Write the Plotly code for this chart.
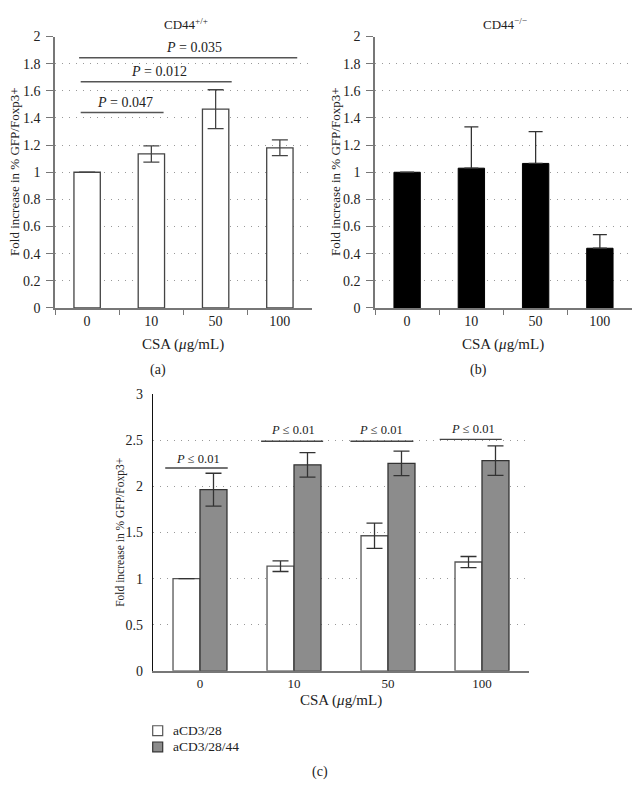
import plotly.graph_objects as go

# ---------------- data ----------------
categories = ["0", "10", "50", "100"]

# panel (a) CD44+/+
wt_vals = [1.0, 1.135, 1.465, 1.18]
wt_err = [None, 0.06, 0.143, 0.058]

# panel (b) CD44-/-
ko_vals = [1.0, 1.03, 1.065, 0.44]
ko_err_up = [None, 0.305, 0.235, 0.10]
ko_err_down = [0, 0, 0, 0]

# panel (c)
c_white_vals = [1.0, 1.135, 1.465, 1.18]
c_white_err = [None, 0.058, 0.138, 0.06]
c_gray_vals = [1.965, 2.234, 2.25, 2.28]
c_gray_err = [0.178, 0.133, 0.133, 0.16]

series_names = ["aCD3/28", "aCD3/28/44"]
series_fill = ["white", "#8c8c8c"]
series_line = ["#555", "#333"]

# significance brackets (x0, x1 in category units, y in data units, label position, label)
sig_a = [(-0.1, 1.19, 1.44, 0.59, 1.515, "<i>P</i> = 0.047"),
         (-0.1, 2.25, 1.668, 1.125, 1.745, "<i>P</i> = 0.012"),
         (-0.125, 3.27, 1.844, 1.67, 1.92, "<i>P</i> = 0.035")]
sig_c = [(-0.37, 0.295, 2.2, -0.02, 2.30, "<i>P</i> ≤ 0.01"),
         (0.65, 1.31, 2.49, 0.99, 2.61, "<i>P</i> ≤ 0.01"),
         (1.60, 2.27, 2.49, 1.93, 2.61, "<i>P</i> ≤ 0.01"),
         (2.55, 3.21, 2.51, 2.90, 2.625, "<i>P</i> ≤ 0.01")]

# the page body adds an 8px margin; size the figure so the page fits the window
PAGE_W, PAGE_H = 642, 794
OFF = 8
W, H = PAGE_W - 2 * OFF, PAGE_H - 2 * OFF
FONT = "Liberation Serif"

def px_x(p):
    return (p - OFF) / W

def px_y(p):
    return 1 - (p - OFF) / H

fig = go.Figure()

# (a)
fig.add_trace(go.Bar(
    x=categories, y=wt_vals, width=0.41,
    marker=dict(color="white", line=dict(color="#444", width=1.3)),
    error_y=dict(type="data", array=wt_err, color="#444", thickness=1.3, width=8),
    xaxis="x", yaxis="y", showlegend=False))

# (b)
fig.add_trace(go.Bar(
    x=categories, y=ko_vals, width=0.41,
    marker=dict(color="black", line=dict(color="black", width=1)),
    error_y=dict(type="data", symmetric=False, array=ko_err_up, arrayminus=ko_err_down,
                 color="#333", thickness=1.3, width=7),
    xaxis="x2", yaxis="y2", showlegend=False))

# (c)
fig.add_trace(go.Bar(
    x=categories, y=c_white_vals, width=0.287, offset=-0.287, name=series_names[0],
    marker=dict(color=series_fill[0], line=dict(color=series_line[0], width=1.3)),
    error_y=dict(type="data", array=c_white_err, color="#333", thickness=1.3, width=8),
    xaxis="x3", yaxis="y3", showlegend=False))
fig.add_trace(go.Bar(
    x=categories, y=c_gray_vals, width=0.287, offset=0, name=series_names[1],
    marker=dict(color=series_fill[1], line=dict(color=series_line[1], width=1.3)),
    error_y=dict(type="data", array=c_gray_err, color="#333", thickness=1.3, width=8),
    xaxis="x3", yaxis="y3", showlegend=False))

tickfont = dict(family=FONT, size=14, color="#222")
tickfont_c = dict(family=FONT, size=13, color="#222")
grid = dict(showgrid=True, gridcolor="#999", gridwidth=1, griddash="1px,6px", zeroline=False)

xcommon = dict(type="category", showline=True, linecolor="#777",
               linewidth=1.5, showgrid=False, zeroline=False, range=[-0.5, 3.5])

fig.update_layout(
    width=W, height=H, margin=dict(l=0, r=0, t=0, b=0),
    paper_bgcolor="white", plot_bgcolor="white",
    barmode="overlay", showlegend=False,
    font=dict(family=FONT, size=14, color="#222"),
    xaxis=dict(domain=[px_x(55), px_x(312)], anchor="y", tickson="boundaries",
               ticks="outside", ticklen=5, tickcolor="#777", tickfont=tickfont, **xcommon),
    yaxis=dict(domain=[px_y(306.7), px_y(30)], anchor="x", range=[0, 2], dtick=0.2,
               ticks="outside", ticklen=7, tickcolor="#777", showline=True,
               linecolor="#777", linewidth=1.5, tickfont=tickfont,
               ticklabelstandoff=3, **grid),
    xaxis2=dict(domain=[px_x(375), px_x(632)], anchor="y2", tickson="boundaries",
                ticks="outside", ticklen=5, tickcolor="#777", tickfont=tickfont, **xcommon),
    yaxis2=dict(domain=[px_y(306.7), px_y(30)], anchor="x2", range=[0, 2], dtick=0.2,
                ticks="outside", ticklen=7, tickcolor="#777", showline=True,
                linecolor="#777", linewidth=1.5, tickfont=tickfont,
                ticklabelstandoff=3, **grid),
    xaxis3=dict(domain=[px_x(153), px_x(529)], anchor="y3", ticks="", tickfont=tickfont_c,
                **xcommon),
    yaxis3=dict(domain=[px_y(676.7), px_y(394.7)], anchor="x3", range=[0, 3], dtick=0.5,
                ticks="", showline=True, linecolor="#111", linewidth=1.3,
                tickfont=tickfont, ticklabelstandoff=6, **grid),
)

shapes = []
annotations = []
for x0, x1, y, tx, ty, label in sig_a:
    shapes.append(dict(type="line", xref="x", yref="y", x0=x0, x1=x1, y0=y, y1=y,
                       line=dict(color="#555", width=1.5)))
    annotations.append(dict(xref="x", yref="y", x=tx, y=ty, text=label, showarrow=False,
                            font=dict(family=FONT, size=14, color="#222")))
for x0, x1, y, tx, ty, label in sig_c:
    shapes.append(dict(type="line", xref="x3", yref="y3", x0=x0, x1=x1, y0=y, y1=y,
                       line=dict(color="#444", width=1.3)))
    annotations.append(dict(xref="x3", yref="y3", x=tx, y=ty, text=label, showarrow=False,
                            font=dict(family=FONT, size=12.5, color="#222")))

def pap(text, x, y, angle=0, size=14, anchor="center"):
    annotations.append(dict(xref="paper", yref="paper", x=px_x(x), y=px_y(y), text=text,
                            showarrow=False, textangle=angle, xanchor=anchor,
                            yanchor="middle", font=dict(family=FONT, size=size, color="#222")))

pap("CD44<sup>+/+</sup>", 186, 17, size=13)
pap("CD44<sup>−/−</sup>", 505, 17, size=13)
ytitle = "Fold increase in % GFP/Foxp3+"
pap(ytitle, 15, 168, -90, 13)
pap(ytitle, 336, 168, -90, 13)
pap(ytitle, 121, 536, -90, 11.5)
xtitle = "CSA (<i>μ</i>g/mL)"
pap(xtitle, 183, 344, size=15)
pap(xtitle, 503, 344, size=15)
pap(xtitle, 341, 707, size=15)
pap("(a)", 158, 370)
pap("(b)", 478, 370)
pap("(c)", 320, 780)

# legend for panel (c)
for i, name in enumerate(series_names):
    yc = 737.7 + i * 16.6
    shapes.append(dict(type="rect", xref="paper", yref="paper",
                       x0=px_x(152.7), x1=px_x(162.7), y0=px_y(yc + 5), y1=px_y(yc - 5),
                       fillcolor=series_fill[i], line=dict(color=series_line[i], width=1.2)))
    pap(name, 170.5, yc, size=13.5, anchor="left")

fig.update_layout(shapes=shapes, annotations=annotations)
fig.write_html("out.html", config={"displayModeBar": False})
